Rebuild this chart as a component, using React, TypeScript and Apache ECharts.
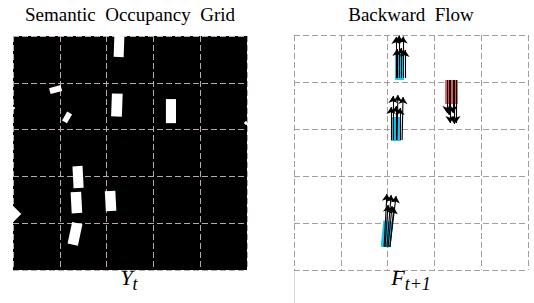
import React, { useEffect, useRef } from "react";
import * as echarts from "echarts";

// Panel titles and subscripted labels
const panelTitles = ["Semantic  Occupancy  Grid", "Backward  Flow"];
const panelLabels = [
  { main: "Y", sub: "t" },
  { main: "F", sub: "t+1" },
];

// Both panels: 0..100 units, grid line every 20 units (5 x 5 cells)
const axisMin = 0;
const axisMax = 100;
const axisStep = 20;

// Occupied cells in Y_t: [centerX, centerY, width, height, angleDeg]
const occupancyBoxes = [
  [45.3, 4.5, 4.3, 9.0, -2],
  [18.2, 22.9, 5.1, 2.6, 15],
  [23.1, 34.8, 2.4, 4.4, -30],
  [44.4, 29.5, 4.6, 9.8, -2],
  [67.5, 32.1, 4.3, 10.3, 0],
  [99.6, 37.2, 1.4, 1.4, 45],
  [27.8, 60.3, 4.3, 9.4, 3],
  [27.1, 71.2, 4.5, 9.0, 3],
  [41.7, 70.5, 4.5, 8.5, 3],
  [0.0, 76.1, 5.0, 5.0, 45],
  [26.5, 84.6, 4.5, 9.4, -12],
  [0.3, 30.8, 1.0, 1.0, 45],
];

// Vehicles in F_{t+1}
const flowBlueBoxes = [
  [45.1, 13.6, 3.8, 11.1, 0],
  [43.6, 40.0, 4.3, 10.2, 0],
  [39.5, 84.7, 3.8, 11.1, -6],
];
const flowRedBoxes = [[67.3, 24.3, 5.5, 10.2, 0]];

// Backward flow vectors: [startX, startY, endX, endY]
const flowArrows = [
  // vehicle A (moving up)
  [43.6, 18.3, 43.6, 0.9],
  [44.9, 18.3, 44.9, 0.2],
  [46.6, 18.3, 46.6, 0.6],
  [44.0, 18.3, 44.0, 6.0],
  [45.7, 18.3, 45.7, 5.5],
  [47.4, 18.3, 47.4, 6.4],
  // vehicle B (moving up)
  [42.3, 44.7, 42.3, 26.0],
  [44.0, 44.7, 44.4, 25.5],
  [46.2, 44.7, 46.6, 26.4],
  [41.5, 44.7, 41.5, 30.6],
  [43.6, 44.7, 43.6, 30.2],
  [45.3, 44.7, 45.3, 31.1],
  // vehicle C (moving down)
  [65.4, 19.1, 65.4, 33.2],
  [66.7, 19.1, 66.7, 37.4],
  [67.9, 19.1, 67.9, 33.2],
  [69.2, 19.1, 69.2, 37.4],
  [66.2, 19.1, 66.2, 34.0],
  [68.5, 19.1, 68.5, 37.9],
  // vehicle D (moving up, slightly right)
  [38.5, 90.2, 39.7, 67.7],
  [39.7, 90.2, 41.5, 68.1],
  [41.0, 90.2, 43.6, 68.5],
  [38.9, 90.2, 40.2, 72.3],
  [40.2, 90.2, 41.9, 72.8],
  [41.0, 90.2, 42.7, 73.2],
];

const serif = "Liberation Serif";

function boxRenderer(color: string) {
  return (params: any, api: any) => {
    const c = api.coord([api.value(0), api.value(1)]);
    const s = api.size([api.value(2), api.value(3)], [api.value(0), api.value(1)]);
    return {
      type: "rect",
      x: c[0],
      y: c[1],
      rotation: (api.value(4) * Math.PI) / 180,
      shape: { x: -s[0] / 2, y: -s[1] / 2, width: s[0], height: s[1] },
      style: { fill: color },
    };
  };
}

function makeAxis(gridIndex: number, color: string, inverse: boolean) {
  return {
    type: "value",
    gridIndex,
    min: axisMin,
    max: axisMax,
    interval: axisStep,
    inverse,
    axisLabel: { show: false },
    axisTick: { show: false },
    axisLine: { show: false },
    splitLine: {
      show: true,
      lineStyle: { color, width: 1, type: [6, 3] },
    },
  };
}

export default function App() {
  const ref = useRef<HTMLDivElement>(null);

  useEffect(() => {
    if (!ref.current) return;
    const chart = echarts.init(ref.current, undefined, { renderer: "svg" });

    const labelText = (l: { main: string; sub: string }) => `{m|${l.main}}{s|${l.sub}}`;
    const rich = {
      m: { fontFamily: serif, fontStyle: "italic", fontSize: 22, lineHeight: 26, verticalAlign: "top", fill: "#000" },
      s: { fontFamily: serif, fontStyle: "italic", fontSize: 18, lineHeight: 16, verticalAlign: "bottom", fill: "#000" },
    };
    const titleStyle = { fontFamily: serif, fontSize: 19, fill: "#000", align: "center", verticalAlign: "middle" };

    chart.setOption({
      animation: false,
      backgroundColor: "#fff",
      grid: [
        { left: 13, top: 36, width: 234, height: 234, show: true, backgroundColor: "#000", borderWidth: 0 },
        { left: 294, top: 35, width: 234, height: 235, show: false },
      ],
      xAxis: [makeAxis(0, "#bba9a9", false), makeAxis(1, "#a89b9b", false)],
      yAxis: [makeAxis(0, "#bba9a9", true), makeAxis(1, "#a89b9b", true)],
      graphic: [
        { type: "text", x: 130, y: 14.5, style: { ...titleStyle, text: panelTitles[0] } },
        { type: "text", x: 411, y: 14.5, style: { ...titleStyle, text: panelTitles[1] } },
        {
          type: "text",
          x: 129,
          y: 266.5,
          style: { text: labelText(panelLabels[0]), align: "center", verticalAlign: "top", rich },
        },
        {
          type: "text",
          x: 411,
          y: 266.5,
          style: { text: labelText(panelLabels[1]), align: "center", verticalAlign: "top", rich },
        },
        {
          type: "line",
          shape: { x1: 294.5, y1: 270, x2: 294.5, y2: 303 },
          style: { stroke: "#d8d8d8", lineWidth: 1 },
        },
      ],
      series: [
        {
          type: "custom",
          xAxisIndex: 0,
          yAxisIndex: 0,
          clip: true,
          renderItem: boxRenderer("#ffffff"),
          data: occupancyBoxes,
          z: 3,
        },
        {
          type: "custom",
          xAxisIndex: 1,
          yAxisIndex: 1,
          clip: true,
          renderItem: boxRenderer("#22c3ee"),
          data: flowBlueBoxes,
          z: 3,
        },
        {
          type: "custom",
          xAxisIndex: 1,
          yAxisIndex: 1,
          clip: true,
          renderItem: boxRenderer("#ef5c5c"),
          data: flowRedBoxes,
          z: 3,
        },
        {
          type: "lines",
          coordinateSystem: "cartesian2d",
          xAxisIndex: 1,
          yAxisIndex: 1,
          symbol: ["none", "arrow"],
          symbolSize: 7,
          lineStyle: { color: "#000", width: 1.1, opacity: 1, curveness: 0 },
          data: flowArrows.map((a) => ({ coords: [[a[0], a[1]], [a[2], a[3]]] })),
          z: 5,
        },
      ],
    });

    return () => chart.dispose();
  }, []);

  return <div ref={ref} style={{ position: "fixed", left: 0, top: 0, width: 534, height: 303 }} />;
}
